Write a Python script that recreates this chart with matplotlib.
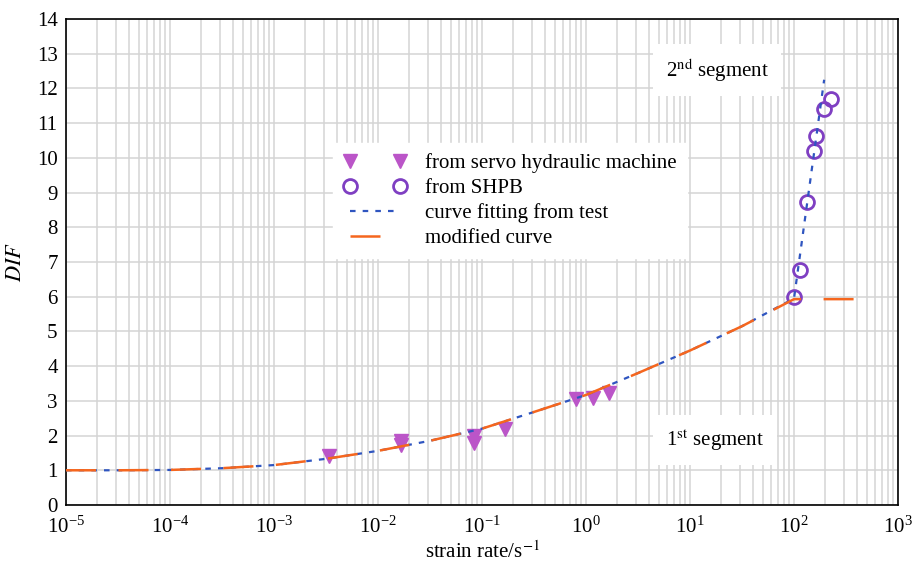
import matplotlib
matplotlib.use("Agg")
import matplotlib.pyplot as plt
from matplotlib.ticker import FixedLocator, LogLocator, NullFormatter

# data
servo_rate = [0.0034, 0.0166, 0.0166, 0.083, 0.083, 0.166, 0.81, 1.17, 1.66]
servo_dif = [1.42, 1.85, 1.72, 1.99, 1.79, 2.18, 3.04, 3.08, 3.22]

shpb_rate = [100, 114, 133, 155, 162, 195, 227]
shpb_dif = [5.99, 6.78, 8.72, 10.19, 10.62, 11.40, 11.69]

# first segment of the curve (shared by fit and modified curve)
seg1_rate = [1e-5, 3.16e-5, 1e-4, 3.16e-4, 1e-3, 3.16e-3, 1e-2, 3.16e-2,
             1e-1, 3.16e-1, 1, 3.16, 10, 31.6, 100]
seg1_dif = [1.00, 1.00, 1.01, 1.06, 1.15, 1.33, 1.56, 1.85,
            2.20, 2.68, 3.17, 3.80, 4.45, 5.15, 5.95]

fit2_rate = [100, 195]
fit2_dif = [5.95, 12.25]

mod2_rate = [100, 550]
mod2_dif = [5.93, 5.93]

x_ticks = [1e-5, 1e-4, 1e-3, 1e-2, 1e-1, 1, 10, 100, 1000]

plt.rcParams["font.family"] = ["Liberation Serif", "DejaVu Serif"]
plt.rcParams["mathtext.fontset"] = "stix"

fig = plt.figure(figsize=(9.13, 5.64), dpi=100)
ax = fig.add_axes([66 / 913, 1 - 505 / 564, 832 / 913, 486 / 564])

tri_c = "#bb55c8"
circ_c = "#7f3fc2"
blue = "#2f55c0"
orange = "#f5661e"

ax.plot(servo_rate, servo_dif, linestyle="none", marker="v", ms=10,
        color=tri_c, zorder=2, label="from servo hydraulic machine")
ax.plot(shpb_rate, shpb_dif, linestyle="none", marker="o", ms=10,
        mfc="none", mec=circ_c, mew=2, zorder=2, label="from SHPB")
ax.plot(seg1_rate[:-1] + fit2_rate, seg1_dif[:-1] + fit2_dif, color=blue,
        lw=1.6, dashes=(2.5, 3.2), zorder=3, label="curve fitting from test")
ax.plot(seg1_rate[:-1] + mod2_rate, seg1_dif[:-1] + mod2_dif, color=orange,
        lw=1.8, dashes=(12, 9), zorder=4, label="modified curve")

ax.set_xscale("log")
ax.set_xlim(1e-5, 1e3)
ax.set_ylim(0, 14)
ax.set_yticks(range(0, 15))
ax.xaxis.set_major_locator(FixedLocator(x_ticks))
ax.xaxis.set_minor_locator(LogLocator(base=10, subs=range(2, 10), numticks=100))
ax.xaxis.set_minor_formatter(NullFormatter())

ax.grid(True, which="both", color="#d4d4d4", lw=1.1)
ax.set_axisbelow(True)
ax.tick_params(which="both", length=0, labelsize=15)
ax.tick_params(axis="x", pad=8)
ax.tick_params(axis="y", pad=6)
for s in ax.spines.values():
    s.set_linewidth(1.2)

ax.set_xlabel("strain rate/s$^{-1}$", fontsize=15, labelpad=3)
ax.set_ylabel("$\\mathit{DIF}$", fontsize=16, labelpad=8)

box = dict(facecolor="white", edgecolor="none", pad=9)
ax.text(18.2, 12.53, "2$^{\\mathrm{nd}}$ segment", fontsize=15,
        ha="center", va="center", bbox=box, zorder=5)
ax.text(17.4, 1.87, "1$^{\\mathrm{st}}$ segment", fontsize=15,
        ha="center", va="center", bbox=box, zorder=5)

leg = ax.legend(loc="upper left", bbox_to_anchor=(0.321, 0.745), fontsize=15,
                numpoints=2, handlelength=3.0, handletextpad=0.9,
                labelspacing=0.25, borderaxespad=0, borderpad=0.5,
                frameon=True, fancybox=False, framealpha=1,
                edgecolor="white", facecolor="white")
leg.set_zorder(6)

fig.savefig("out.png", dpi=100)
